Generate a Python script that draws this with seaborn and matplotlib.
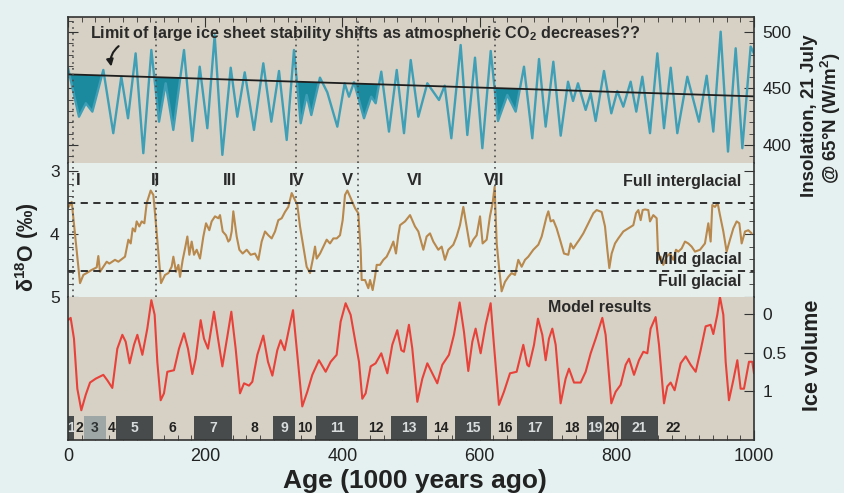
import matplotlib
matplotlib.use("Agg")
import matplotlib.pyplot as plt
from matplotlib.ticker import MultipleLocator
import numpy as np
import pandas as pd
import seaborn as sns

# insolation, 21 July @ 65N (W/m2)
ins_age = [0, 16, 26, 35.5, 51.5, 66, 77.7, 87.5, 98.6, 109.8, 121.5, 132.7, 142.4, 153.5,
           169.1, 181.2, 192, 203.1, 213.8, 225, 237.2, 246.8, 257.6, 271.1, 284.7, 296.4,
           307.6, 318.8, 329.4, 339.2, 347.9, 354.7, 367.3, 378, 392.6, 403.3, 409.6, 416.9,
           431.5, 442.1, 448.5, 456.7, 467.9, 479.2, 489.8, 499.6, 510.7, 523.8, 540.8, 549.1,
           558.8, 572.4, 582.1, 593.3, 604, 616.2, 626.8, 640.4, 652.6, 664.7, 676.8, 686.6,
           696.3, 707.5, 718.2, 728.9, 736.2, 743.4, 754.6, 761.9, 769.2, 781.3, 792, 800.7,
           809.5, 820.2, 828.4, 837.2, 848.4, 859.1, 868.8, 878.6, 888.2, 902.8, 919.8, 931,
           940.7, 951.4, 962.1, 973.3, 983, 995.1, 1000]
ins_val = [468, 425, 436.9, 429.5, 466.4, 410.4, 460.4, 423.6, 481.1, 392.7, 484.1, 420.6, 454.6, 413.3,
           484.1, 403.5, 469.3, 414.8, 497.3, 391.2, 468.4, 425, 464.3, 413.3, 472.3, 420.6,
           465.5, 404.4, 484.1, 419.2, 444.2, 426.5, 459.6, 446.6, 416.2, 454.6, 442.7, 455.5,
           423.6, 442.7, 436.9, 464.9, 411.8, 466.4, 410.4, 475.2, 425, 454.6, 439.8, 452.5,
           405.9, 488.5, 408.8, 477.3, 397.1, 483.2, 421.2, 444.2, 429.5, 469.3, 405.9, 476.1,
           416.2, 473.7, 408.2, 456, 438.9, 454.6, 431, 445.8, 421.2, 465.5, 428, 447.8,
           433.9, 456, 429.5, 460.4, 410.4, 481.1, 414.8, 468.4, 410.4, 460.4, 420.6, 461.3,
           411.8, 500.3, 394.1, 485.6, 397.1, 487.1, 481]

# limit of large ice sheet stability (straight line)
limit_age = [0, 1000]
limit_val = [462.5, 443]
fill_windows = [(-1, 50), (122, 168), (330, 366), (418, 455), (617, 663)]

# benthic d18O record
d18_age = [1, 5.4, 17.5, 22.4, 27.2, 34.5, 41.8, 44.2, 46.7, 51.5, 56.4, 60.3, 68.5, 73.4,
           83.1, 88, 91.4, 94.3, 97.7, 100.1, 104, 107.4, 111.3, 114.7, 120.5, 124.4, 126.8,
           135.6, 141.4, 146.3, 151.1, 153.6, 157.4, 160.9, 163.3, 167.2, 170.6, 174, 176.9,
           180.3, 183.7, 187.6, 192.4, 197.3, 201.2, 206, 209.4, 214.3, 219.2, 221.6, 225.5,
           230.3, 233.7, 236.2, 238.6, 241, 245.9, 249.8, 254.6, 260.5, 266.3, 272.6, 277.5,
           282.3, 287.2, 292, 296.9, 301.8, 306.6, 311.5, 316.3, 321.2, 326.1, 330.9, 334.3,
           338.2, 343.1, 347.9, 352.8, 357.6, 360.1, 362.5, 367.4, 372.2, 377.1, 381.9, 386.8,
           391.7, 396.5, 400.4, 403.8, 407.2, 412.1, 418.4, 423.2, 426.6, 428.1, 433, 437.8,
           440.3, 444.1, 447.5, 450, 454.8, 459.7, 464.5, 469.4, 474.3, 478.1, 481.5, 484,
           491.3, 498.6, 505.8, 510.7, 518, 522.8, 527.7, 532.5, 539.8, 544.7, 549.5, 554.4,
           561.7, 566.5, 571.4, 576.3, 581.1, 586, 590.8, 595.7, 600.6, 604.4, 610.3, 615.1,
           619, 621.9, 624.9, 628.7, 632.1, 637, 641.9, 646.7, 651.6, 656.4, 661.3, 666.2,
           671, 678.3, 685.6, 690.5, 697.7, 700.2, 703.6, 707.5, 712.3, 717.2, 723, 729.3,
           732.7, 736.6, 741.5, 745.4, 751.2, 758.5, 765.8, 770.6, 777.9, 782.8, 786.2, 789.1,
           792.5, 797.4, 802.2, 809.5, 816.8, 824.1, 828, 831.4, 834.8, 837.7, 841.1, 845.9,
           848.4, 853.2, 858.1, 860.5, 863.9, 867.8, 872.7, 877.5, 882.4, 886.3, 889.7, 894.5,
           899.4, 904.2, 909.1, 914, 921.3, 928.5, 933.4, 936.8, 939.2, 943.1, 947, 950.4,
           955.3, 960.1, 965, 969.9, 974.7, 978.6, 982, 986.9, 991.7, 996.6]
d18_val = [3.57, 3.49, 4.78, 4.65, 4.62, 4.57, 4.53, 4.35, 4.60, 4.52, 4.44, 4.47, 4.41, 4.44,
           4.36, 4.09, 4.15, 3.91, 3.96, 3.80, 3.88, 3.80, 3.83, 3.51, 3.31, 3.38, 3.67,
           4.78, 4.65, 4.62, 4.52, 4.36, 4.60, 4.49, 4.68, 4.41, 4.23, 4.04, 4.33,
           4.12, 4.33, 4.25, 4.39, 4.04, 3.83, 3.94, 3.80, 3.72, 3.75, 3.70, 3.96,
           4.02, 4.12, 4.09, 3.96, 3.64, 4.04, 4.25, 4.31, 4.25, 4.33, 4.31, 4.41,
           4.12, 3.96, 4.02, 4.07, 3.96, 3.78, 3.75, 3.65, 3.57, 3.35, 3.46, 3.54,
           3.88, 4.20, 4.52, 4.62, 4.36, 4.20, 4.39, 4.31, 4.20, 4.09, 4.15, 4.07,
           4.07, 4.02, 3.78, 3.38, 3.31, 3.43, 3.59, 3.67, 4.25, 4.73, 4.73, 4.86,
           4.73, 4.89, 4.68, 4.49, 4.49, 4.41, 4.36, 4.25, 4.12, 4.31, 4.02, 3.86,
           3.80, 3.70, 3.88, 3.96, 4.25, 4.04, 3.99, 4.12, 4.25, 4.20, 4.41, 4.25,
           4.17, 4.04, 3.86, 3.57, 3.88, 4.20, 4.09, 4.02, 3.72, 4.15, 4.09, 3.72,
           3.51, 3.25, 4.15, 4.57, 4.91, 4.76, 4.68, 4.62, 4.65, 4.41, 4.52, 4.41,
           4.36, 4.25, 4.17, 4.04, 3.72, 3.64, 3.80, 3.78, 3.91, 4.09, 4.31, 4.33,
           4.15, 4.23, 4.15, 4.09, 3.99, 3.83, 3.67, 3.62, 3.65, 3.88, 4.25, 4.54,
           4.31, 4.15, 4.07, 3.96, 3.91, 3.86, 3.67, 3.62, 3.78, 3.62, 3.61, 3.62,
           3.80, 3.70, 3.75, 4.41, 4.36, 4.49, 4.36, 4.31, 4.41, 4.25, 4.28, 4.23,
           4.12, 4.15, 4.20, 4.28, 4.25, 4.15, 3.83, 4.12, 3.54, 3.57, 3.51, 3.70,
           3.96, 4.28, 4.09, 3.91, 3.80, 3.83, 4.15, 3.96, 3.94, 3.99]

# model ice volume
ice_age = [0, 3.9, 8.7, 13.6, 19.4, 25.8, 32.1, 40.3, 51.5, 57.3, 64.6, 71.9, 79.2, 84.1,
           89.9, 96.2, 101.1, 108.4, 115.6, 121.5, 126.3, 130.2, 135.1, 139.9, 144.8, 154.5,
           161.8, 169.1, 174.9, 181.2, 186.1, 193.4, 198.2, 204.1, 212.8, 218.7, 225, 232.3,
           238.1, 244.4, 250.7, 256.6, 263.8, 268.7, 276, 284.7, 291.5, 297.9, 305.1, 310,
           315.8, 322.2, 328, 334.3, 341.5, 348.8, 356.1, 365.8, 375.6, 382.9, 391.6, 397.4,
           404.7, 412, 419.3, 424.2, 429, 433.9, 441.2, 448.4, 456.7, 465.5, 472.7, 480,
           485.9, 489.7, 497, 501.9, 509.2, 516.5, 523.8, 531, 538.3, 545.6, 555.3, 562.6,
           570.9, 577.2, 583.5, 589.4, 594.2, 601.5, 608.8, 616.1, 620.9, 628.2, 635.5, 644.3,
           654, 663.7, 669.5, 672, 679.3, 685.1, 691.4, 696.3, 701.1, 706, 710.9, 718.1,
           725.4, 730.3, 737.6, 747.3, 754.6, 761.9, 769.2, 778.9, 783.7, 792, 798.3, 805.6,
           812.9, 817.8, 825.1, 832.3, 838.7, 844.5, 849.3, 856.6, 861.5, 868.8, 873.6, 878.5,
           884.3, 893.1, 900.4, 907.7, 915, 922.2, 929.5, 936.8, 940.7, 946.5, 950.4, 955.3,
           958.7, 963.5, 969.8, 975.7, 980.5, 985.4, 992.7, 997.5, 1000]
ice_val = [0.08, 0.05, 0.32, 0.97, 1.25, 1.05, 0.89, 0.84, 0.79, 0.86, 0.96, 0.45, 0.27, 0.36,
           0.64, 0.40, 0.27, 0.53, 0.19, -0.18, 0.01, 0.62, 1.12, 1.03, 0.75, 0.73,
           0.45, 0.25, 0.45, 0.78, 0.58, 0.08, 0.32, 0.45, -0.03, 0.32, 0.68, 0.29,
           -0.03, 0.45, 1.03, 0.90, 0.93, 0.88, 0.53, 0.28, 0.62, 0.80, 0.47, 0.34,
           0.47, 0.19, -0.05, 0.53, 1.20, 1.01, 0.79, 0.60, 0.75, 0.62, 0.53, 0.10,
           -0.14, 0.01, 0.38, 0.62, 1.10, 1.03, 0.68, 0.64, 0.51, 0.77, 0.40, 0.21,
           0.47, 0.49, 0.14, 0.45, 1.14, 0.84, 0.64, 0.77, 0.90, 0.66, 0.53, 0.27,
           -0.15, 0.23, 0.74, 0.36, 0.19, 0.51, 0.14, -0.14, 0.40, 1.18, 1.01, 0.77,
           0.75, 0.40, 0.66, 0.68, 0.40, 0.06, 0.27, 0.60, 0.32, 0.19, 0.40, 1.16,
           0.84, 0.71, 0.89, 0.89, 0.75, 0.51, 0.32, 0.05, 0.27, 1.16, 1.01, 0.92,
           0.66, 0.58, 0.79, 0.60, 0.49, 0.51, 0.19, 0.04, 0.40, 1.16, 0.94, 0.89,
           0.99, 0.64, 0.55, 0.66, 0.75, 0.47, 0.16, 0.14, 0.26, 0.01, -0.22, 0.01,
           0.62, 1.12, 0.86, 0.60, 0.97, 0.97, 0.62, 0.62, 0.77]

# terminations (dotted lines) and their labels
term_age = [7, 128, 332, 423, 622]
roman = ["I", "II", "III", "IV", "V", "VI", "VII"]
roman_age = [15, 127, 236, 334, 408, 506, 621]
full_interglacial = 3.51
full_glacial = 4.59

# marine isotope stages
box_stage = ["1", "3", "5", "7", "9", "11", "13", "15", "17", "19", "21"]
box_start = [0, 23, 70, 184, 299, 362, 471, 564, 654, 756, 806]
box_end = [9, 55, 124, 239, 331, 423, 523, 617, 707, 781, 860]
open_stage = ["2", "4", "6", "8", "10", "12", "14", "16", "18", "20", "22"]
open_age = [16, 64, 152, 271, 345, 449, 544, 637, 735, 793, 882]

sns.set_style("ticks")
plt.rcParams["font.family"] = ["Liberation Sans", "DejaVu Sans"]
plt.rcParams["axes.linewidth"] = 1.2
plt.rcParams["mathtext.fontset"] = "custom"
plt.rcParams["mathtext.rm"] = "Liberation Sans"
plt.rcParams["mathtext.bf"] = "Liberation Sans:bold"

fig = plt.figure(figsize=(8.44, 4.93), dpi=100, facecolor="#e4f1f0")
L, W = 68 / 844, 686 / 844
ax_top = fig.add_axes([L, 1 - 163 / 493, W, 146 / 493])
ax_mid = fig.add_axes([L, 1 - 297 / 493, W, 134 / 493])
ax_bot = fig.add_axes([L, 1 - 440 / 493, W, 143 / 493])

for ax in (ax_top, ax_mid, ax_bot):
    ax.set_xlim(0, 1000)
    for s in ax.spines.values():
        s.set_color("#333333")
    ax.xaxis.set_major_locator(MultipleLocator(200))
    ax.xaxis.set_minor_locator(MultipleLocator(20))
    ax.tick_params(which="both", direction="in", colors="#333333", labelsize=12.5,
                   labelcolor="#222222", pad=6)
    ax.tick_params(which="major", length=7)
    ax.tick_params(which="minor", length=3.5)
    ax.set_xlabel("")
    ax.set_ylabel("")

# ---- top: insolation
ax_top.set_facecolor("#d6d1c4")
age = np.array(ins_age)
ins = np.array(ins_val)
lim = np.interp(age, limit_age, limit_val)
mask = np.zeros(len(age), dtype=bool)
for a, b in fill_windows:
    mask |= (age > a) & (age < b)
mask &= ins < lim
ax_top.fill_between(age, ins, lim, where=mask, interpolate=True, color="#1c8a9e", lw=0)
sns.lineplot(x=ins_age, y=ins_val, ax=ax_top, color="#3f9fb6", lw=1.7,
             solid_joinstyle="round")
ax_top.plot(limit_age, limit_val, color="#1e1e1e", lw=1.3)
ax_top.set_ylim(384, 513.3)
ax_top.set_yticks([400, 450, 500])
ax_top.yaxis.set_minor_locator(MultipleLocator(10))
ax_top.tick_params(which="both", left=True, right=True, top=True, bottom=False,
                   labelleft=False, labelright=True, labelbottom=False)
ax_top.spines["bottom"].set_visible(False)
ax_top.text(32, 499, "Limit of large ice sheet stability shifts as atmospheric CO$_\\mathbf{2}$ decreases??",
            fontsize=11.6, fontweight="bold", color="#2a2a2a", va="center")
ax_top.annotate("", xy=(64, 467), xytext=(77, 489),
                arrowprops=dict(arrowstyle="-|>", connectionstyle="arc3,rad=0.35",
                                color="#1e1e1e", lw=1.5, mutation_scale=10))

# ---- middle: d18O
ax_mid.set_facecolor("#e6efec")
sns.lineplot(x=d18_age, y=d18_val, ax=ax_mid, color="#b8884c", lw=1.5)
ax_mid.axhline(full_interglacial, color="#222222", lw=1.3, ls=(0, (4, 3)))
ax_mid.axhline(full_glacial, color="#222222", lw=1.3, ls=(0, (4, 3)))
ax_mid.set_ylim(5.0, 2.873)
ax_mid.set_yticks([3, 4, 5])
ax_mid.yaxis.set_minor_locator(MultipleLocator(0.2))
ax_mid.tick_params(which="both", left=True, right=True, top=False, bottom=False,
                   labelleft=True, labelbottom=False)
ax_mid.spines["top"].set_visible(False)
ax_mid.spines["bottom"].set_visible(False)
for r, a in zip(roman, roman_age):
    ax_mid.text(a, 3.15, r, ha="center", va="center", fontsize=12, fontweight="bold",
                color="#2a2a2a")
ax_mid.text(982, 3.17, "Full interglacial", ha="right", va="center", fontsize=11.5,
            fontweight="bold", color="#2a2a2a")
ax_mid.text(982, 4.41, "Mild glacial", ha="right", va="center", fontsize=11.5,
            fontweight="bold", color="#2a2a2a")
ax_mid.text(982, 4.76, "Full glacial", ha="right", va="center", fontsize=11.5,
            fontweight="bold", color="#2a2a2a")

for ax in (ax_top, ax_mid):
    for t in term_age:
        ax.axvline(t, color="#4a4a4a", lw=1.2, ls=(0, (1, 2.5)))

# ---- bottom: model ice volume
ax_bot.set_facecolor("#d6d1c4")
sns.lineplot(x=ice_age, y=ice_val, ax=ax_bot, color="#e8413a", lw=1.5)
ax_bot.set_ylim(1.636, -0.221)
ax_bot.set_yticks([0, 0.5, 1])
ax_bot.set_yticklabels(["0", "0.5", "1"])
ax_bot.tick_params(which="both", left=False, right=True, top=False, bottom=True,
                   labelleft=False, labelright=True, labelbottom=True)
ax_bot.tick_params(axis="x", labelsize=13)
ax_bot.tick_params(axis="y", which="minor", right=False)
ax_bot.spines["top"].set_visible(False)
ax_bot.text(775, -0.09, "Model results", ha="center", va="center", fontsize=11.5,
            fontweight="bold", color="#2a2a2a")

for s, a, b in zip(box_stage, box_start, box_end):
    shade = "#9ea6a6" if s == "3" else "#474b4b"
    ax_bot.axvspan(a, b, ymin=0, ymax=24 / 143, color=shade, lw=0)
    ax_bot.text((a + b) / 2, 0.085, s, transform=ax_bot.get_xaxis_transform(),
                ha="center", va="center", fontsize=10, fontweight="bold",
                color="#2f3333" if s == "3" else "#d9dcdc")
for s, a in zip(open_stage, open_age):
    ax_bot.text(a, 0.085, s, transform=ax_bot.get_xaxis_transform(), ha="center",
                va="center", fontsize=10, fontweight="bold", color="#222222")

# axis titles
fig.text(27 / 844, 1 - 247 / 493, "\u03b4$^\\mathbf{18}$O (\u2030)", rotation=90, ha="center",
         va="center", fontsize=15.5, fontweight="bold", color="#222222")
fig.text(810 / 844, 1 - 116 / 493, "Insolation, 21 July", rotation=90, ha="center",
         va="center", fontsize=13.5, fontweight="bold", color="#222222")
fig.text(831 / 844, 1 - 118 / 493, "@ 65\u00b0N (W/m$^\\mathbf{2}$)", rotation=90, ha="center",
         va="center", fontsize=13.5, fontweight="bold", color="#222222")
fig.text(812 / 844, 1 - 355 / 493, "Ice volume", rotation=90, ha="center", va="center",
         fontsize=15.5, fontweight="bold", color="#222222")
fig.text(415 / 844, 1 - 481 / 493, "Age (1000 years ago)", ha="center", va="center",
         fontsize=19, fontweight="bold", color="#222222")

fig.savefig("out.png", dpi=100, facecolor=fig.get_facecolor())
